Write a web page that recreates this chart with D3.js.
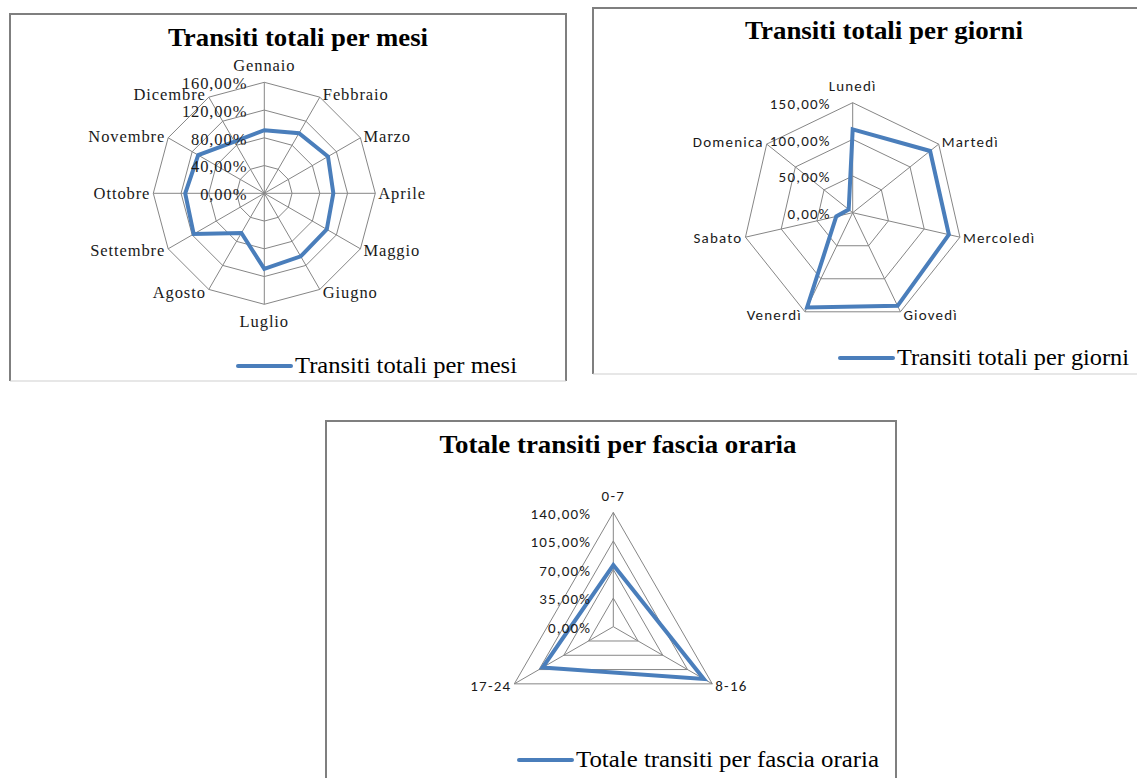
<!DOCTYPE html>
<html>
<head>
<meta charset="utf-8">
<script src="https://cdn.jsdelivr.net/npm/d3@7"></script>
<style>
  body { margin: 0; background: #fff; }
  svg { display: block; }
</style>
</head>
<body>
<div id="chart"></div>
<script>
// --- data ---
const mesi = ["Gennaio", "Febbraio", "Marzo", "Aprile", "Maggio", "Giugno",
              "Luglio", "Agosto", "Settembre", "Ottobre", "Novembre", "Dicembre"]
const transitiMesi = [91, 100, 106, 99.5, 104, 105, 109, 66, 117.5, 114, 110, 86]
const ticksMesi = [0, 40, 80, 120, 160]

const giorni = ["Lunedì", "Martedì", "Mercoledì", "Giovedì", "Venerdì", "Sabato", "Domenica"]
const transitiGiorni = [113.6, 135, 134.5, 141, 143.5, 23, 7]
const ticksGiorni = [0, 50, 100, 150]

const fasce = ["0-7", "8-16", "17-24"]
const transitiFasce = [75.5, 128, 100]
const ticksFasce = [0, 35, 70, 105, 140]

const pct = d => d3.format(".2f")(d).replace(".", ",") + "%"

const svg = d3.select("#chart").append("svg")
    .attr("width", 1137)
    .attr("height", 778)

const serif = "'Liberation Serif', 'Times New Roman', serif"
const sans = "Carlito, 'Liberation Sans', Arial, sans-serif"
const blue = "#4a7ebb"

// box: x0, y0, x1, y1
function drawFrame(b) {
    svg.append("path")
        .attr("d", `M${b[0]},${b[3]}V${b[1]}H${b[2]}V${b[3]}`)
        .attr("fill", "none").attr("stroke", "#7f7f7f").attr("stroke-width", 2)
    svg.append("line")
        .attr("x1", b[0]).attr("x2", b[2]).attr("y1", b[3]).attr("y2", b[3])
        .attr("stroke", "#cfcfcf").attr("stroke-width", 1)
}

function radar(cfg) {
    let n = cfg.cats.length
    let max = d3.max(cfg.ticks)
    let r = d3.scaleLinear().domain([0, max]).range([0, cfg.R])
    let angle = d3.scaleLinear().domain([0, n]).range([0, 2 * Math.PI])

    drawFrame(cfg.box)

    svg.append("text")
        .attr("x", cfg.titleX).attr("y", cfg.titleY)
        .attr("text-anchor", "middle")
        .attr("font-family", serif).attr("font-weight", "bold")
        .attr("font-size", 25)
        .attr("textLength", cfg.titleW).attr("lengthAdjust", "spacingAndGlyphs")
        .text(cfg.title)

    let g = svg.append("g")
        .attr("transform", `translate(${cfg.cx},${cfg.cy})`)

    let pt = (i, v) => [Math.sin(angle(i)) * r(v), -Math.cos(angle(i)) * r(v)]

    // rings
    cfg.ticks.filter(t => t > 0).forEach(t => {
        g.append("path")
            .attr("d", d3.line()(d3.range(n).map(i => pt(i, t))) + "Z")
            .attr("fill", "none").attr("stroke", "#868686").attr("stroke-width", 1)
    })
    // spokes
    g.selectAll(".spoke").data(cfg.cats).enter().append("line")
        .attr("class", "spoke")
        .attr("x1", 0).attr("y1", 0)
        .attr("x2", (d, i) => pt(i, max)[0])
        .attr("y2", (d, i) => pt(i, max)[1])
        .attr("stroke", "#868686").attr("stroke-width", 1)

    // data line
    let line = d3.lineRadial()
        .angle((d, i) => angle(i))
        .radius(d => r(d))
        .curve(d3.curveLinearClosed)
    g.append("path")
        .datum(cfg.values)
        .attr("d", line)
        .attr("fill", "none").attr("stroke", blue)
        .attr("stroke-width", 4).attr("stroke-linejoin", "miter")

    // category labels
    g.selectAll(".cat").data(cfg.cats).enter().append("text")
        .attr("class", "cat")
        .attr("font-family", cfg.font).attr("font-size", cfg.fs)
        .attr("letter-spacing", cfg.ls)
        .attr("fill", "#1a1a1a")
        .each(function(d, i) {
            let a = angle(i)
            let [x, y] = pt(i, max)
            let s = Math.sin(a), c = Math.cos(a)
            let anchor = Math.abs(s) < 0.05 ? "middle" : (s > 0 ? "start" : "end")
            let dx = Math.abs(s) < 0.05 ? 0 : (s > 0 ? 3 : -3)
            let dy = Math.abs(s) < 0.05 ? -c * 17 : -c * 3
            d3.select(this)
                .attr("x", x + dx).attr("y", y + dy)
                .attr("dy", "0.35em")
                .attr("text-anchor", anchor)
                .text(d)
        })

    // tick labels
    g.selectAll(".tick").data(cfg.ticks).enter().append("text")
        .attr("class", "tick")
        .attr("font-family", cfg.font).attr("font-size", cfg.fs)
        .attr("letter-spacing", cfg.ls)
        .attr("fill", "#1a1a1a")
        .attr("text-anchor", "end")
        .attr("x", cfg.tickX)
        .attr("y", d => -r(d) + 1)
        .attr("dy", "0.35em")
        .text(pct)

    // legend
    svg.append("line")
        .attr("x1", cfg.legX).attr("x2", cfg.legX + 53)
        .attr("y1", cfg.legY - 7).attr("y2", cfg.legY - 7)
        .attr("stroke", blue).attr("stroke-width", 4).attr("stroke-linecap", "round")
    svg.append("text")
        .attr("x", cfg.legX + 57).attr("y", cfg.legY)
        .attr("font-family", serif).attr("font-size", 22.5)
        .attr("textLength", cfg.legW).attr("lengthAdjust", "spacingAndGlyphs")
        .text(cfg.title)
}

radar({
    title: "Transiti totali per mesi", cats: mesi, values: transitiMesi, ticks: ticksMesi,
    box: [10, 14, 566, 381], cx: 264.3, cy: 193.3, R: 111,
    titleX: 298, titleY: 46, titleW: 260,
    font: serif, fs: 16.5, ls: 0.9, tickX: -17,
    legX: 238, legY: 373, legW: 222
})

radar({
    title: "Transiti totali per giorni", cats: giorni, values: transitiGiorni, ticks: ticksGiorni,
    box: [593, 8, 1145, 374], cx: 852.7, cy: 212.7, R: 110,
    titleX: 884, titleY: 39, titleW: 278,
    font: sans, fs: 15, ls: 1.2, tickX: -22,
    legX: 840, legY: 365, legW: 232
})

radar({
    title: "Totale transiti per fascia oraria", cats: fasce, values: transitiFasce, ticks: ticksFasce,
    box: [326, 421, 896, 790], cx: 613.3, cy: 626.7, R: 114.3,
    titleX: 618, titleY: 453, titleW: 357,
    font: sans, fs: 15, ls: 1.2, tickX: -22,
    legX: 519, legY: 767, legW: 303
})
</script>
</body>
</html>
